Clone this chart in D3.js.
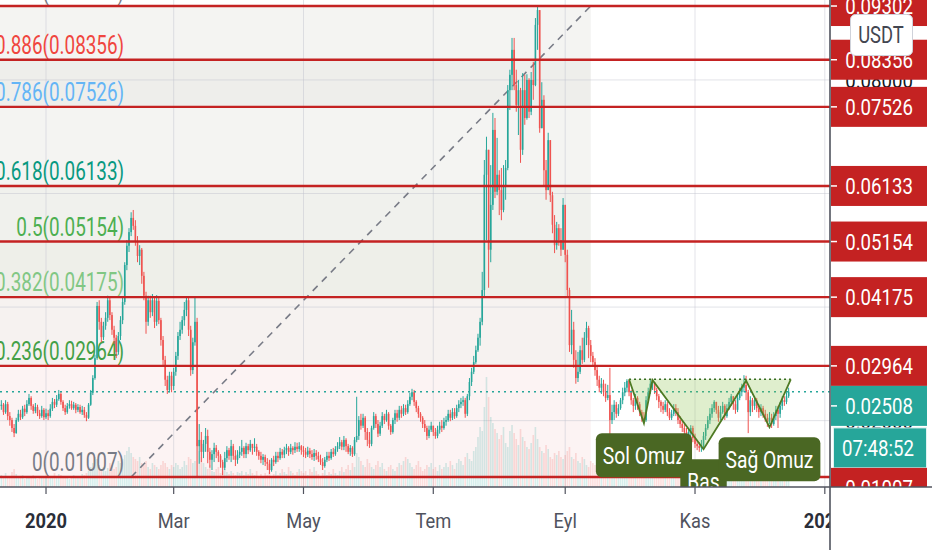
<!DOCTYPE html>
<html lang="tr">

<head>
    <meta charset="UTF-8">
    <title>Fib retracement with head and shoulders</title>
    <script src="https://d3js.org/d3.v7.min.js"></script>
    <style>
        body { margin: 0; background: #fff; }
        svg { display: block; font-family: Roboto, "Noto Sans", sans-serif; }
    </style>
</head>

<body>
    <svg id="chart"></svg>

    <script>
        // daily candles, prices in units of 0.0001 USDT, open = previous close
        const PRICE_UNIT = 0.0001;
        const firstDay = "2019-12-11";
        const firstOpen = 226;

        const closes = [
            // 2019 Dec 11-31
            228,215,229,208,201,187,178,201,212,206,221,215,229,240,226,217,224,213,208,219,206,
            // 2020 Jan
            213,208,221,233,228,238,247,233,222,215,226,229,222,228,219,224,215,219,210,205,228,249,275,310,402,374,347,367,381,412,386,
            // Feb
            360,346,321,349,377,409,474,508,532,557,543,515,490,501,455,420,374,412,391,412,374,411,377,342,307,272,254,279,261,
            // Mar
            286,314,349,360,377,395,412,360,289,338,374,155,166,145,159,173,145,131,141,152,145,138,127,117,134,148,138,155,138,131,140,
            // Apr
            145,152,141,155,148,159,152,154,145,138,131,136,127,124,113,131,127,138,134,145,140,148,152,145,152,148,154,150,155,148,
            // May
            145,140,147,141,136,143,138,132,127,120,131,138,134,145,141,150,155,162,154,166,155,145,152,141,166,173,201,191,205,180,166,
            // Jun
            159,187,208,194,177,191,208,201,212,191,180,201,213,205,219,212,222,215,229,242,250,233,222,212,205,194,187,173,184,191,
            // Jul
            180,173,184,191,187,198,201,212,205,215,208,222,229,233,236,212,243,268,286,303,324,346,374,430,633,677,501,580,712,603,633,
            // Aug
            606,571,615,645,782,809,853,791,756,782,677,782,733,800,744,800,791,897,923,715,765,641,606,694,597,545,509,539,518,501,580,
            // Sep
            492,430,333,360,307,275,286,324,307,346,363,333,314,303,289,272,258,265,250,240,245,201,215,228,212,222,236,250,258,270,
            // Oct
            250,236,226,240,229,215,205,201,236,250,265,268,254,243,233,226,219,229,215,205,212,222,215,201,194,187,180,173,180,187,169,
            // Nov
            159,155,152,155,173,187,201,212,222,233,219,205,215,226,208,222,233,243,229,219,240,250,258,263,250,215,236,226,236,222,
            // Dec 1-15
            215,222,212,205,198,205,194,208,219,212,226,236,233,243,251
        ];

        const highs = [
            236,231,236,233,215,205,194,205,219,219,226,228,236,247,243,229,231,228,219,226,222,
            221,219,229,240,238,245,254,250,236,228,231,236,235,233,231,229,228,226,224,215,231,254,280,316,409,412,381,374,391,420,416,
            391,367,351,356,384,416,479,518,539,567,571,553,525,509,504,462,427,420,420,423,416,421,416,381,349,314,279,286,286,
            293,321,356,374,384,409,418,416,367,346,416,381,194,180,166,187,184,152,148,161,157,148,141,131,145,155,152,166,159,148,148,
            155,166,155,161,159,166,159,169,159,148,145,141,140,134,131,134,138,145,145,152,150,154,159,155,159,155,162,161,162,157,
            155,152,154,152,148,150,148,145,140,134,136,145,145,150,152,155,162,171,166,173,169,159,157,155,171,242,208,212,212,208,187,
            180,191,215,212,201,198,215,212,219,215,194,205,219,219,226,226,229,228,236,249,256,254,236,226,215,208,201,191,191,198,
            191,187,191,198,201,205,208,219,219,222,222,228,236,240,243,240,247,275,293,314,332,353,381,462,659,700,677,650,742,733,698,
            641,645,650,659,791,818,874,874,818,800,786,812,809,810,803,814,832,909,930,856,796,773,659,707,694,603,562,550,546,539,592,
            580,501,434,395,374,324,321,332,346,356,374,367,342,321,310,298,279,275,272,265,263,293,228,236,233,229,240,258,268,273,
            272,254,240,247,243,233,219,215,243,258,272,273,268,258,247,236,233,236,233,222,219,229,229,222,208,201,194,187,187,192,191,
            177,166,162,166,180,194,208,222,229,236,233,226,226,233,229,229,240,247,243,236,247,258,265,280,279,254,243,240,243,240,
            229,229,226,219,212,215,212,215,226,226,233,243,243,250,258
        ];

        const lows = [
            219,210,212,201,191,180,171,177,198,201,203,208,212,226,219,212,213,208,203,205,201,
            203,201,205,217,222,224,235,228,217,210,212,221,219,219,213,215,212,210,205,199,203,226,245,272,307,360,338,342,360,374,377,
            351,335,310,316,342,370,404,465,497,525,536,508,479,474,441,412,353,367,381,384,363,367,370,332,296,261,247,250,250,
            254,279,307,342,353,367,384,349,279,282,332,101,124,127,134,145,125,117,113,127,134,127,117,104,113,127,131,127,131,120,124,
            134,138,134,134,141,145,140,145,138,131,125,122,120,113,106,110,120,124,127,131,134,134,141,138,141,140,143,145,145,140,
            136,134,136,134,131,129,131,127,122,113,117,127,129,131,136,138,145,150,148,148,145,141,138,136,138,162,166,184,187,166,155,
            152,155,184,187,171,173,187,194,198,184,175,177,194,198,201,205,208,210,212,226,236,226,215,205,198,187,180,166,169,180,
            173,168,169,177,180,184,191,198,199,201,203,205,215,222,226,205,208,236,261,282,300,321,332,368,416,518,434,479,571,592,597,
            562,553,567,589,641,747,782,782,744,703,654,668,721,730,733,738,765,789,853,707,715,612,589,606,585,530,495,501,508,490,501,
            479,416,321,317,293,265,268,282,300,303,333,310,303,296,279,261,250,247,243,233,236,148,194,201,205,208,219,229,243,250,
            243,228,215,219,219,208,198,196,198,233,247,254,247,236,222,215,212,215,208,201,201,208,208,194,187,180,173,166,166,173,162,
            152,148,145,145,152,166,184,194,205,215,212,198,201,212,201,205,219,226,219,212,215,236,243,250,236,178,208,215,219,215,
            205,208,205,198,189,194,187,191,201,187,205,219,226,229,240
        ];

        // daily volume, millions
        const volumes = [
            12,10,14,9,11,15,18,13,10,9,12,8,11,10,9,12,10,8,9,11,10,
            10,12,9,11,14,10,13,12,9,10,11,8,10,12,9,11,10,13,12,14,16,20,24,30,28,22,18,20,16,19,24,
            22,18,20,26,24,28,32,36,40,34,30,28,26,30,24,22,26,20,18,24,22,20,18,22,26,24,20,18,22,
            20,24,22,18,20,26,22,30,28,24,26,44,36,30,24,20,18,22,16,15,18,20,14,16,18,15,13,16,14,12,15,
            14,16,12,15,13,18,14,12,16,11,13,10,14,12,15,11,13,16,12,14,18,15,13,20,16,14,12,15,18,16,
            14,16,12,18,15,20,16,13,11,14,17,12,15,13,18,14,12,16,20,15,18,22,17,24,20,34,30,26,22,20,28,
            24,20,18,22,26,20,24,18,16,20,22,18,16,20,24,22,26,30,28,24,20,18,22,26,20,16,18,22,20,24,
            18,20,16,22,18,20,24,20,26,22,18,24,28,26,22,30,34,28,26,36,40,50,60,56,80,110,90,70,64,58,54,
            48,52,60,44,40,56,62,54,48,42,58,50,46,40,38,44,52,60,48,40,36,34,42,38,30,28,34,32,36,30,28,
            32,36,40,30,28,34,26,24,30,28,22,20,26,24,22,30,24,20,22,28,34,40,26,20,18,22,20,24,16,18,
            22,18,16,20,18,14,16,20,22,18,14,16,12,14,18,16,12,15,18,14,16,20,18,22,16,14,18,20,16,14,18,
            20,24,18,16,20,22,18,14,16,20,18,15,22,18,16,14,18,20,16,18,22,20,18,24,26,30,20,18,16,14,
            16,18,14,12,16,18,20,14,12,16,18,14,16,20,18
        ];

        // fibonacci retracement
        const fibRatios = [1, 0.886, 0.786, 0.618, 0.5, 0.382, 0.236, 0];
        const fibPrices = [0.09302, 0.08356, 0.07526, 0.06133, 0.05154, 0.04175, 0.02964, 0.01007];
        const fibAnchorDates = ["2020-02-10", "2020-09-13"];
        const fibAnchorPrices = [0.01007, 0.09302];

        // head and shoulders
        const patternDates = ["2020-10-01", "2020-10-08", "2020-10-12", "2020-11-05", "2020-11-25", "2020-12-06", "2020-12-16"];
        const patternPrices = [0.02728, 0.01954, 0.02716, 0.01496, 0.02704, 0.01883, 0.02728];
        const patternLabels = ["Sol Omuz", "Baş", "Sağ Omuz"];

        const lastPrice = 0.02508;
        const countdown = "07:48:52";
        const currency = "USDT";

        const priceTicks = [0.02, 0.04, 0.06, 0.08];
        const timeTicks = ["2020-01-01", "2020-03-01", "2020-05-01", "2020-07-01", "2020-09-01", "2020-11-01", "2021-01-01"];
        const timeTickLabels = ["2020", "Mar", "May", "Tem", "Eyl", "Kas", "2021"];

        const fibTextColors = ["#787b86", "#f0463f", "#64b5f6", "#089981", "#4caf50", "#81c784", "#43a047", "#787b86"];
        const fibBandColors = ["#f4f4f2", "#eeeeeb", "#f4f4f2", "#f0f1ed", "#eeefe9", "#f6f2f0", "#fcf3f3"];

        function program() {
            const width = 932, height = 550, plotW = 830, plotH = 487;
            const DAY = 864e5;
            const up = "#26a69a", down = "#ef5350", lineRed = "#c42222", olive = "#4a6723";

            const svg = d3.select("#chart").attr("width", width).attr("height", height);

            const x = d3.scaleUtc()
                .domain([new Date("2019-12-10T09:00Z"), new Date("2021-01-03T10:30Z")])
                .range([0, plotW]);
            const y = d3.scaleLinear().domain([0.00831, 0.09408]).range([plotH, 0]);
            const yVol = d3.scaleLinear().domain([0, d3.max(volumes)]).range([plotH, plotH - 110]);

            const t0 = new Date(firstDay).getTime();
            const bars = closes.map((c, i) => {
                const o = i === 0 ? firstOpen : closes[i - 1];
                return {
                    date: new Date(t0 + i * DAY),
                    open: o * PRICE_UNIT,
                    close: c * PRICE_UNIT,
                    high: Math.max(highs[i], o, c) * PRICE_UNIT,
                    low: Math.min(lows[i], o, c) * PRICE_UNIT,
                    vol: volumes[i]
                };
            });

            // text squeezed horizontally, like the screenshot
            function squeezed(parent, px, py, str, size, sx, fill, anchor, weight) {
                return parent.append("text")
                    .attr("transform", `translate(${px},${py}) scale(${sx},1)`)
                    .attr("text-anchor", anchor || "middle")
                    .attr("font-size", size)
                    .attr("font-weight", weight || 400)
                    .attr("fill", fill)
                    .text(str);
            }

            const defs = svg.append("defs");
            defs.append("clipPath").attr("id", "plotClip")
                .append("rect").attr("width", plotW).attr("height", plotH);
            defs.append("clipPath").attr("id", "axisClip")
                .append("rect").attr("x", plotW).attr("width", width - plotW).attr("height", plotH);
            defs.append("clipPath").attr("id", "timeClip")
                .append("rect").attr("y", plotH).attr("width", plotW).attr("height", height - plotH);

            svg.append("rect").attr("width", width).attr("height", height).attr("fill", "#fff");

            const plot = svg.append("g").attr("clip-path", "url(#plotClip)");

            // fib background bands (extended left)
            const fibRight = x(new Date(fibAnchorDates[1]));
            plot.append("g").selectAll("rect")
                .data(d3.range(fibPrices.length - 1))
                .join("rect")
                .attr("x", 0)
                .attr("width", fibRight)
                .attr("y", k => y(fibPrices[k]))
                .attr("height", k => y(fibPrices[k + 1]) - y(fibPrices[k]))
                .attr("fill", k => fibBandColors[k]);

            // grid
            const grid = plot.append("g").attr("stroke", "rgba(190,194,204,0.45)").attr("stroke-width", 1);
            grid.selectAll(".h").data(priceTicks).join("line")
                .attr("x1", 0).attr("x2", plotW)
                .attr("y1", d => y(d)).attr("y2", d => y(d));
            grid.selectAll(".v").data(timeTicks).join("line")
                .attr("x1", d => x(new Date(d))).attr("x2", d => x(new Date(d)))
                .attr("y1", 0).attr("y2", plotH);

            // volume
            plot.append("g").selectAll("rect")
                .data(bars)
                .join("rect")
                .attr("x", d => x(d.date) - 0.8)
                .attr("width", 1.6)
                .attr("y", d => yVol(d.vol))
                .attr("height", d => plotH - yVol(d.vol))
                .attr("fill", d => d.close >= d.open ? "rgba(38,166,154,0.19)" : "rgba(239,83,80,0.19)");

            // fib labels
            const labelRight = x(new Date(fibAnchorDates[0])) - 7;
            fibPrices.forEach((p, k) => {
                squeezed(plot, labelRight, y(p) - 6, `${fibRatios[k]}(${p.toFixed(5)})`, 25, 0.755, fibTextColors[k], "end");
            });

            // fib trend line
            plot.append("line")
                .attr("x1", x(new Date(fibAnchorDates[0]))).attr("y1", y(fibAnchorPrices[0]))
                .attr("x2", x(new Date(fibAnchorDates[1]))).attr("y2", y(fibAnchorPrices[1]))
                .attr("stroke", "#787b86").attr("stroke-width", 1.6).attr("stroke-dasharray", "7,6");

            // candles
            const candle = plot.append("g").selectAll("g")
                .data(bars)
                .join("g")
                .attr("fill", d => d.close >= d.open ? up : down)
                .attr("stroke", d => d.close >= d.open ? up : down);
            candle.append("line")
                .attr("x1", d => x(d.date)).attr("x2", d => x(d.date))
                .attr("y1", d => y(d.high)).attr("y2", d => y(d.low))
                .attr("stroke-width", 1);
            candle.append("rect")
                .attr("stroke", "none")
                .attr("x", d => x(d.date) - 0.8)
                .attr("width", 1.6)
                .attr("y", d => y(Math.max(d.open, d.close)))
                .attr("height", d => Math.max(1, Math.abs(y(d.open) - y(d.close))));

            // horizontal levels
            plot.append("g").selectAll("line")
                .data(fibPrices)
                .join("line")
                .attr("x1", 0).attr("x2", plotW)
                .attr("y1", d => y(d)).attr("y2", d => y(d))
                .attr("stroke", lineRed).attr("stroke-width", 2.4);

            // last price line
            plot.append("line")
                .attr("x1", 0).attr("x2", plotW)
                .attr("y1", y(lastPrice)).attr("y2", y(lastPrice))
                .attr("stroke", up).attr("stroke-width", 1.5).attr("stroke-dasharray", "2,4");

            // head and shoulders
            const pts = patternDates.map((d, i) => [x(new Date(d)), y(patternPrices[i])]);
            const neckY = pts[0][1];
            const pat = plot.append("g");
            [[0, 1, 2], [2, 3, 4], [4, 5, 6]].forEach(tri => {
                const poly = tri.map(i => pts[i]);
                poly.push([pts[tri[2]][0], neckY], [pts[tri[0]][0], neckY]);
                pat.append("path")
                    .attr("d", d3.line()(poly) + "Z")
                    .attr("fill", "rgba(139,195,74,0.28)");
            });
            pat.append("line")
                .attr("x1", pts[0][0]).attr("x2", pts[6][0])
                .attr("y1", neckY).attr("y2", neckY)
                .attr("stroke", "#33691e").attr("stroke-width", 1.6).attr("stroke-dasharray", "2,3");
            pat.append("path")
                .attr("d", d3.line()(pts))
                .attr("fill", "none").attr("stroke", "#4e7a24").attr("stroke-width", 1.8);

            patternLabels.forEach((name, k) => {
                const p = pts[2 * k + 1];
                const top = p[1] + 10, boxH = 44, fs = 23.5, sx = 0.82;
                const g = pat.append("g");
                const box = g.append("rect");
                const t = squeezed(g, p[0], top + boxH / 2 + 0.38 * fs, name, fs, sx, "#fff");
                const w = t.node().getComputedTextLength() * sx + 14;
                box.attr("x", p[0] - w / 2).attr("y", top)
                    .attr("width", w).attr("height", boxH)
                    .attr("rx", 6).attr("fill", olive);
            });

            // price axis
            const axis = svg.append("g").attr("clip-path", "url(#axisClip)");
            const axisMid = 879;

            const tags = fibPrices.map(p => ({ price: p, h: 40, last: false }))
                .concat([{ price: lastPrice, h: 82, last: true }])
                .sort((a, b) => b.price - a.price);
            let prevBottom = -Infinity;
            tags.forEach(tg => {
                tg.top = Math.max(y(tg.price) - 20, prevBottom);
                prevBottom = tg.top + tg.h;
            });

            // regular tick labels sit under the tags; skip the ones a tag hides completely
            priceTicks.forEach(p => {
                const ty = y(p);
                const hidden = tags.some(tg => tg.top <= ty - 9 && tg.top + 40 >= ty + 9);
                if (!hidden) squeezed(axis, axisMid, ty + 8, p.toFixed(5), 23, 0.81, "#131722");
            });

            tags.forEach(tg => {
                const mid = tg.top + 20;
                axis.append("rect")
                    .attr("x", plotW + 1).attr("y", tg.top)
                    .attr("width", 96).attr("height", 40)
                    .attr("fill", tg.last ? up : lineRed);
                squeezed(axis, axisMid, mid + 8.3, tg.price.toFixed(5), 23, 0.81, "#fff");
                axis.append("line")
                    .attr("x1", plotW + 1).attr("x2", plotW + 7)
                    .attr("y1", mid).attr("y2", mid)
                    .attr("stroke", "#fff").attr("stroke-width", 1.5);
                if (tg.last) {
                    axis.append("rect")
                        .attr("x", plotW + 3.5).attr("y", tg.top + 42)
                        .attr("width", 93).attr("height", 40)
                        .attr("fill", up).attr("stroke", "#e0f2f1").attr("stroke-width", 1);
                    squeezed(axis, axisMid - 1, tg.top + 62 + 8.3, countdown, 23, 0.81, "#fff");
                }
            });

            // currency badge
            axis.append("rect")
                .attr("x", 850.5).attr("y", 14.5).attr("width", 62).attr("height", 41)
                .attr("rx", 5).attr("fill", "#fff").attr("stroke", "#cfd2da");
            squeezed(axis, 881, 43, currency, 23, 0.8, "#434651");

            // time axis
            const timeAxis = svg.append("g").attr("clip-path", "url(#timeClip)");
            timeTicks.forEach((d, i) => {
                const tx = x(new Date(d));
                timeAxis.append("line")
                    .attr("x1", tx).attr("x2", tx).attr("y1", plotH).attr("y2", plotH + 7)
                    .attr("stroke", "#50535e").attr("stroke-width", 1.2);
                const isYear = /^\d{4}$/.test(timeTickLabels[i]);
                squeezed(timeAxis, tx, 528, timeTickLabels[i], 21, 0.87,
                    isYear ? "#2a2e39" : "#50535e", "middle", isYear ? 700 : 400);
            });

            // frame lines
            svg.append("line")
                .attr("x1", 0).attr("x2", width).attr("y1", plotH).attr("y2", plotH)
                .attr("stroke", "#50535e").attr("stroke-width", 1.6);
            svg.append("line")
                .attr("x1", plotW).attr("x2", plotW).attr("y1", 0).attr("y2", height)
                .attr("stroke", "#50535e").attr("stroke-width", 1.6);
        }

        program();
    </script>
</body>

</html>
